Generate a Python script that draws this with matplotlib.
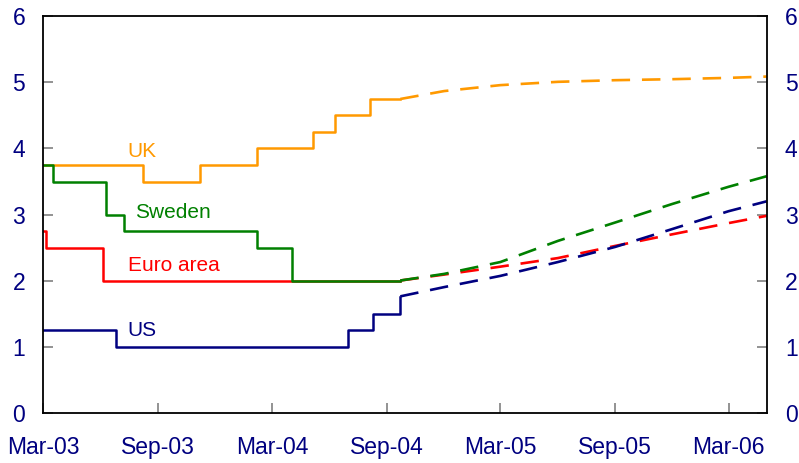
import pandas as pd
import matplotlib
matplotlib.use('Agg')
import matplotlib.pyplot as plt

plt.rcParams['font.family'] = ['Liberation Sans', 'DejaVu Sans']

# Policy rates (step changes), solid part
uk_dates = ['2003-03-01', '2003-08-07', '2003-11-06', '2004-02-05', '2004-05-06', '2004-06-10', '2004-08-05', '2004-09-22']
uk_rates = [3.75, 3.5, 3.75, 4.0, 4.25, 4.5, 4.75, 4.75]

se_dates = ['2003-03-01', '2003-03-17', '2003-06-10', '2003-07-08', '2004-02-06', '2004-04-01', '2004-09-22']
se_rates = [3.75, 3.5, 3.0, 2.75, 2.5, 2.0, 2.0]

ea_dates = ['2003-03-01', '2003-03-06', '2003-06-05', '2004-09-22']
ea_rates = [2.75, 2.5, 2.0, 2.0]

us_dates = ['2003-03-01', '2003-06-25', '2004-06-30', '2004-08-10', '2004-09-22']
us_rates = [1.25, 1.0, 1.25, 1.5, 1.75]

# Market expectations (forward curves), dashed part
fwd_dates = ['2004-09-22', '2004-12-01', '2005-03-01', '2005-06-01', '2005-09-01', '2005-12-01', '2006-03-01', '2006-05-01']
uk_fwd = [4.75, 4.87, 4.96, 5.01, 5.035, 5.05, 5.07, 5.09]
se_fwd = [2.0, 2.1, 2.28, 2.6, 2.88, 3.16, 3.42, 3.58]
ea_fwd = [2.0, 2.09, 2.21, 2.34, 2.525, 2.7, 2.87, 2.98]
us_fwd = [1.76, 1.9, 2.07, 2.28, 2.51, 2.78, 3.05, 3.2]

tick_dates = ['2003-03-01', '2003-09-01', '2004-03-01', '2004-09-01', '2005-03-01', '2005-09-01', '2006-03-01']
tick_labels = ['Mar-03', 'Sep-03', 'Mar-04', 'Sep-04', 'Mar-05', 'Sep-05', 'Mar-06']

navy = '#000080'
series = [
    ('UK', uk_dates, uk_rates, uk_fwd, '#FF9900', '2003-07-14', 3.95),
    ('Euro area', ea_dates, ea_rates, ea_fwd, '#FF0000', '2003-07-14', 2.23),
    ('Sweden', se_dates, se_rates, se_fwd, '#008000', '2003-07-25', 3.03),
    ('US', us_dates, us_rates, us_fwd, navy, '2003-07-14', 1.25),
]

fig = plt.figure(figsize=(7.99, 4.63), dpi=100)
ax = fig.add_axes([0.0542, 0.109, 0.9054, 0.8554])

fd = pd.to_datetime(fwd_dates)
for name, d, r, f, col, lx, ly in series:
    ax.plot(pd.to_datetime(d), r, color=col, lw=1.8, drawstyle='steps-post')
    ax.plot(fd, f, color=col, lw=1.9, dashes=(7, 4.5))
    ax.text(pd.Timestamp(lx), ly, name, color=col, fontsize=15, va='center', ha='left')

ax.set_xlim(pd.Timestamp('2003-03-01'), pd.Timestamp('2006-05-01'))
ax.set_ylim(0, 6)
ax.set_xticks(pd.to_datetime(tick_dates))
ax.set_xticklabels(tick_labels)
ax.set_yticks(range(0, 7))

ax.tick_params(axis='both', direction='in', length=7, width=1.2, color='#808080',
               labelcolor=navy, labelsize=16.5)
ax.tick_params(axis='y', right=True, labelright=True, pad=13)
ax.tick_params(axis='x', pad=17)
for s in ax.spines.values():
    s.set_linewidth(1.3)
    s.set_color('black')

fig.savefig('out.png', dpi=100)
